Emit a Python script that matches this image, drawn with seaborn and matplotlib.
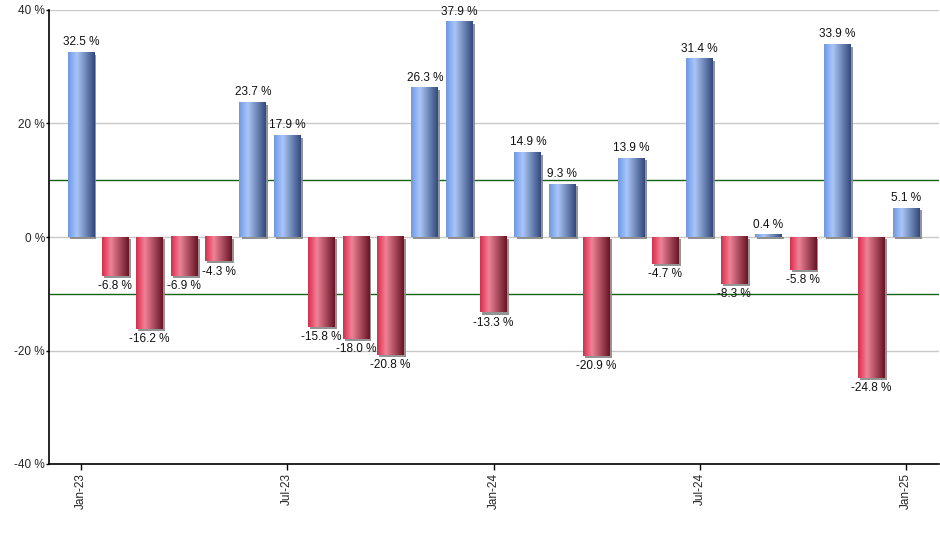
import numpy as np
import pandas as pd
import matplotlib
matplotlib.use("Agg")
import matplotlib.pyplot as plt
import seaborn as sns
from matplotlib.colors import LinearSegmentedColormap
from matplotlib import patheffects as pe

months = ["Jan-23", "Feb-23", "Mar-23", "Apr-23", "May-23", "Jun-23", "Jul-23",
          "Aug-23", "Sep-23", "Oct-23", "Nov-23", "Dec-23", "Jan-24", "Feb-24",
          "Mar-24", "Apr-24", "May-24", "Jun-24", "Jul-24", "Aug-24", "Sep-24",
          "Oct-24", "Nov-24", "Dec-24", "Jan-25"]
values = [32.5, -6.8, -16.2, -6.9, -4.3, 23.7, 17.9, -15.8, -18.0, -20.8, 26.3, 37.9,
          -13.3, 14.9, 9.3, -20.9, 13.9, -4.7, 31.4, -8.3, 0.4, -5.8, 33.9, -24.8, 5.1]
tick_months = ["Jan-23", "Jul-23", "Jan-24", "Jul-24", "Jan-25"]
y_ticks = [-40, -20, 0, 20, 40]
ref_lines = [10, -10]

sns.set_theme(style="white")
plt.rcParams['font.family'] = ['Liberation Sans', 'DejaVu Sans']

df = pd.DataFrame({"month": months, "value": values,
                   "sign": ["pos" if v >= 0 else "neg" for v in values]})

fig = plt.figure(figsize=(9.4, 5.5), dpi=100)
ax = fig.add_axes([49 / 940, 1 - 464 / 550, 1 - 49 / 940 - 0.001, (464 - 10) / 550])

sns.barplot(data=df, x="month", y="value", hue="sign", dodge=False,
            palette={"pos": "#8fb0ee", "neg": "#d0405c"}, width=0.78,
            legend=False, ax=ax, zorder=2)

blue = LinearSegmentedColormap.from_list("b", [(0, "#6d98e8"), (0.33, "#aac6f6"), (1, "#33487a")])
red = LinearSegmentedColormap.from_list("r", [(0, "#dc2a4c"), (0.33, "#ee8397"), (1, "#651424")])
grad = np.linspace(0, 1, 256).reshape(1, -1)

for p in ax.patches:
    w = p.get_width()
    h = p.get_height()
    if w <= 0 or np.isnan(h):
        continue
    x0 = p.get_x()
    y0 = p.get_y()
    ylo, yhi = min(y0, y0 + h), max(y0, y0 + h)
    cmap = blue if h >= 0 else red
    p.set_facecolor("#8a8a8a")
    p.set_edgecolor("none")
    p.set_path_effects([pe.SimplePatchShadow(offset=(1.5, -1.5), shadow_rgbFace="#888888", alpha=0.9), pe.Normal()])
    ax.imshow(grad, cmap=cmap, extent=(x0, x0 + w, ylo, yhi), aspect="auto",
              interpolation="bilinear", zorder=3)
    xc = x0 + w / 2
    if h >= 0:
        ax.annotate(f"{h:.1f} %", (xc, yhi), xytext=(0, 3), textcoords="offset points",
                    ha="center", va="bottom", fontsize=8.5, color="#111111", zorder=4)
    else:
        ax.annotate(f"{h:.1f} %", (xc, ylo), xytext=(0, -3), textcoords="offset points",
                    ha="center", va="top", fontsize=8.5, color="#111111", zorder=4)

for r in ref_lines:
    ax.axhline(r, color="#156315", lw=1.0, zorder=1)

ax.set_yticks(y_ticks)
ax.set_yticklabels([f"{t} %" for t in y_ticks], fontsize=8.5)
ax.yaxis.grid(True, color="#c8c8c8", lw=1.0, zorder=0)
ax.set_axisbelow(True)
ax.set_ylim(-40, 40)
ax.set_xlim(-0.93, 24.96)

pos = [months.index(m) for m in tick_months]
ax.set_xticks(pos)
ax.set_xticklabels(tick_months, rotation=90, fontsize=8.5)
ax.tick_params(axis="x", length=4.5, width=1, color="black", pad=2, bottom=True)
ax.tick_params(axis="y", length=2, width=1, color="black", pad=1, left=True)
ax.set_xlabel("")
ax.set_ylabel("")

for s in ["top", "right"]:
    ax.spines[s].set_visible(False)
for s in ["left", "bottom"]:
    ax.spines[s].set_color("black")
    ax.spines[s].set_linewidth(1.2)

fig.savefig("out.png", dpi=100)
